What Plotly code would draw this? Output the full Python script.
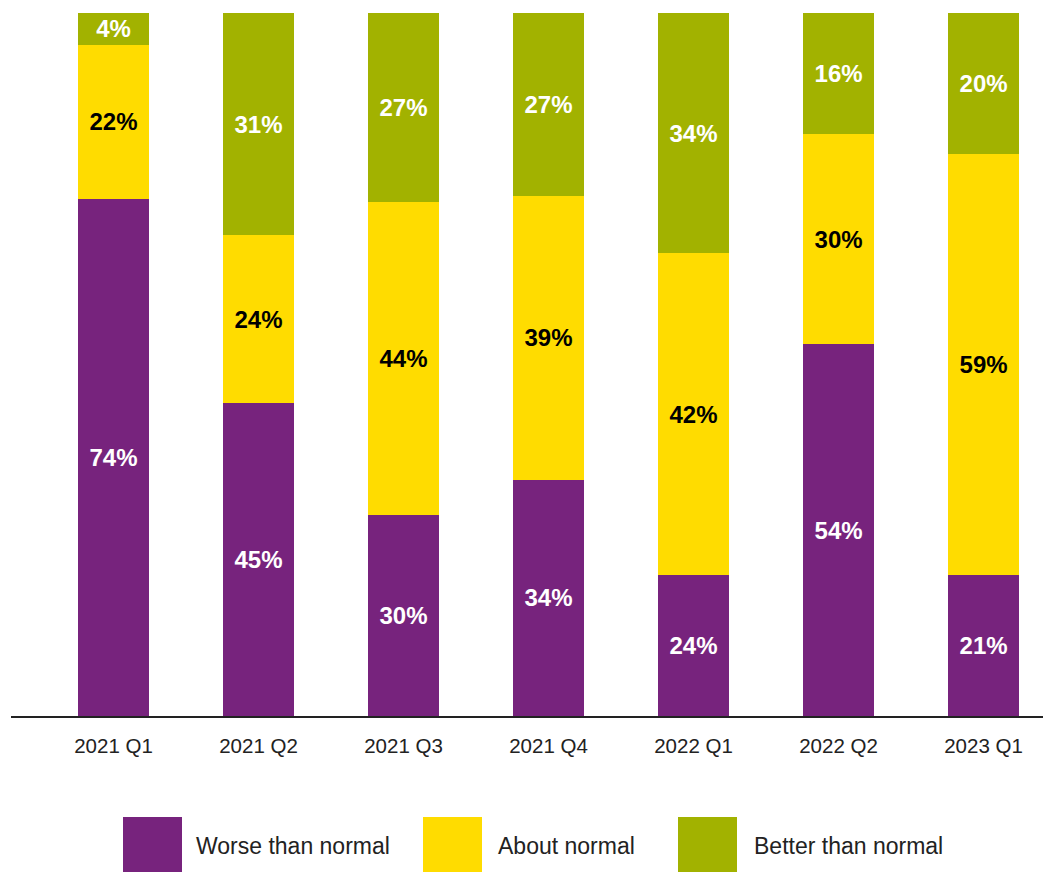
import plotly.graph_objects as go

categories = ["2021 Q1", "2021 Q2", "2021 Q3", "2021 Q4", "2022 Q1", "2022 Q2", "2023 Q1"]
# segment heights as drawn in the picture (share of bar, %)
worse = [73.5, 44.5, 28.6, 33.6, 20.0, 52.9, 20.0]
about = [22.0, 23.9, 44.5, 40.4, 45.8, 29.9, 60.0]
better = [4.5, 31.6, 26.9, 26.0, 34.2, 17.2, 20.0]
# printed labels
worse_labels = ["74%", "45%", "30%", "34%", "24%", "54%", "21%"]
about_labels = ["22%", "24%", "44%", "39%", "42%", "30%", "59%"]
better_labels = ["4%", "31%", "27%", "27%", "34%", "16%", "20%"]

series = [
    ("Worse than normal", worse, worse_labels, "#77237D", "white"),
    ("About normal", about, about_labels, "#FFDC00", "black"),
    ("Better than normal", better, better_labels, "#A2B200", "white"),
]

W, H = 1043, 872
L, R, T, B = 11, 0, 13, 156
PW, PH = W - L - R, H - T - B
FONT = "Liberation Sans, Arial, Helvetica, sans-serif"

fig = go.Figure()
for name, vals, labels, color, tcolor in series:
    fig.add_trace(go.Bar(
        x=categories, y=vals, name=name,
        marker=dict(color=color, line=dict(width=0)),
        text=labels,
        textposition="inside", insidetextanchor="middle",
        textangle=0,
        textfont=dict(family=FONT, size=24, color=tcolor, weight="bold"),
        width=0.49, showlegend=False,
    ))

# pixel -> paper helpers for the custom legend
def px_x(p):
    return (p - L) / PW

def px_y(p):
    return (H - B - p) / PH

shapes = []
annotations = []
legend_items = [(123, 194), (423, 496), (678, 752)]
for (sx, tx), (name, vals, labels, color, tcolor) in zip(legend_items, series):
    shapes.append(dict(type="rect", xref="paper", yref="paper",
                       x0=px_x(sx), x1=px_x(sx + 59), y0=px_y(817), y1=px_y(876),
                       fillcolor=color, line=dict(width=0)))
    annotations.append(dict(xref="paper", yref="paper", x=px_x(tx), y=px_y(846),
                            xanchor="left", yanchor="middle", showarrow=False,
                            text=name, font=dict(family=FONT, size=23, color="#222222")))

fig.update_layout(
    width=W, height=H, autosize=False,
    margin=dict(l=L, r=R, t=T, b=B, pad=0),
    barmode="stack",
    plot_bgcolor="white", paper_bgcolor="white",
    shapes=shapes, annotations=annotations,
    uniformtext=dict(minsize=24, mode="show"),
)
fig.update_xaxes(range=[-0.707, 6.41], showline=True, linecolor="#222222", linewidth=1.5,
                 showgrid=False, zeroline=False, ticks="",
                 tickfont=dict(family=FONT, size=20.5, color="#222222"),
                 ticklabelstandoff=11)
fig.update_yaxes(range=[0, 100], visible=False, showgrid=False, zeroline=False)

fig.write_html("out.html")
